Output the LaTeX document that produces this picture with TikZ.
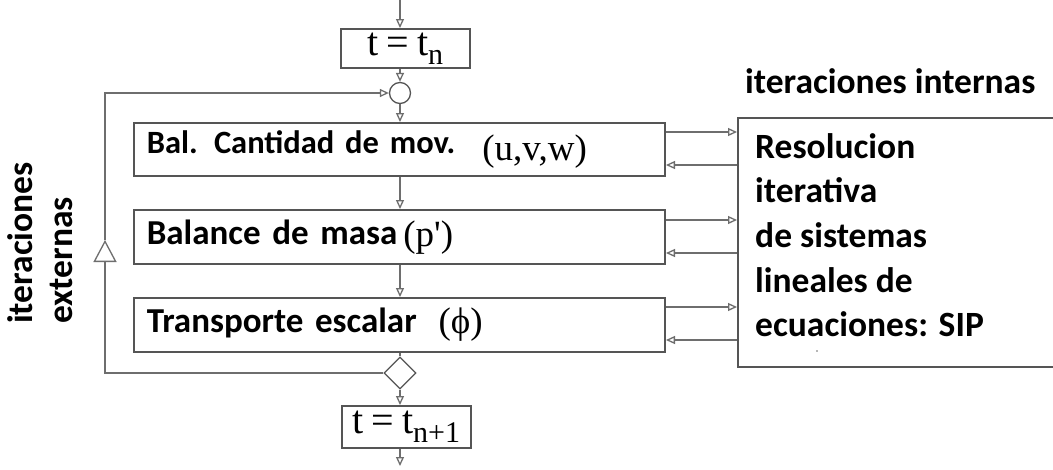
\documentclass[tikz,border=0pt]{standalone}
\usepackage{fontspec}
\setmainfont{Carlito}
\newfontfamily\tnr{Liberation Serif}
\usetikzlibrary{arrows.meta,shapes.geometric}
\definecolor{linegray}{HTML}{6E6E6E}
\definecolor{boxgray}{HTML}{555555}
\tikzset{
  conn/.style={draw=linegray, line width=1.3pt},
  tip/.style={conn, -{Triangle[open,length=9pt,width=8pt]}},
  bigtip/.style={conn, -{Triangle[open,length=22pt,width=23pt]}},
  boxnode/.style={draw=boxgray, line width=1.6pt, fill=white, rectangle, anchor=north west, inner sep=0pt},
  stage/.style={boxnode, minimum height=54pt, text width=505pt, inner xsep=13pt, align=left,
                font=\fontsize{35}{38}\selectfont\bfseries},
  timebox/.style={boxnode, minimum width=129pt, font=\tnr\fontsize{40}{40}\selectfont},
  lbl/.style={font=\fontsize{35.5}{40}\selectfont\bfseries, inner sep=0pt}
}
\newcommand{\sr}[1]{{\tnr\mdseries\fontsize{37}{37}\selectfont #1}}
\begin{document}
\begin{tikzpicture}[x=1pt,y=-1pt]
\useasboundingbox (0,0) rectangle (1053,469);
\clip (0,0) rectangle (1053,469);
\fill[white] (0,0) rectangle (1053,469);
% axis coordinates
\coordinate (top) at (400,0);
\coordinate (bot) at (400,466);
% nodes
\node[timebox, minimum height=39pt] (tn) at (340,28) {t\hspace{8pt}=\hspace{8pt}t\raisebox{-9pt}{\fontsize{30}{30}\selectfont n}};
\node[circle, draw=boxgray, line width=1.3pt, minimum size=21pt, inner sep=0pt] (circ) at (400,93) {};
\node[stage, minimum height=53pt, font=\fontsize{32.5}{38}\selectfont\bfseries] (b1) at (133,122) {Bal. Cantidad de mov.\hspace{27pt}\raisebox{-7pt}{\sr{(u,v,w)}}};
\node[stage] (b2) at (133,209) {Balance de masa\hspace{6pt}\raisebox{-2pt}{\sr{(p')}}};
\node[stage] (b3) at (133,297) {Transporte escalar\hspace{22pt}\raisebox{-1pt}{\sr{(ϕ)}}};
\node[diamond, aspect=1, draw=boxgray, line width=1.3pt, minimum size=32pt, inner sep=0pt] (dia) at (400,373) {};
\node[timebox, minimum height=42pt] (tn1) at (341,405) {t\hspace{8pt}=\hspace{8pt}t\raisebox{-9pt}{\fontsize{30}{30}\selectfont n+1}};
\node[boxnode, minimum width=330pt, minimum height=249pt] (rb) at (737,117) {};
\node[lbl, anchor=north west, align=left, font=\fontsize{35.5}{44.7}\selectfont\bfseries] (rbt) at (755,133)
  {Resolucion\\iterativa\\de sistemas\\lineales de\\ecuaciones: SIP};
\fill[linegray] (817,351) circle (0.8pt);
\node[lbl, anchor=base west] (ii) at (745,93) {iteraciones internas};
\node[lbl, rotate=90, anchor=north west, align=left, font=\fontsize{35.5}{40}\selectfont\bfseries] (ie) at (7,324) {iteraciones\\externas};
% main flow
\draw[tip] (top) -- (tn.north -| top);
\draw[tip] (tn.south -| top) -- (circ.north);
\draw[tip] (circ.south) -- (b1.north -| top);
\draw[tip] (b1.south -| top) -- (b2.north -| top);
\draw[tip] (b2.south -| top) -- (b3.north -| top);
\draw[conn] (b3.south -| top) -- (dia.north);
\draw[tip] (dia.south) -- (tn1.north -| top);
\draw[tip] (tn1.south -| top) -- (bot);
% outer loop
\coordinate (ll) at (105,373);
\coordinate (aup) at (105,240);
\draw[bigtip] (dia.west) -- (ll) -- (aup);
\draw[tip] (aup) -- (aup |- circ.west) -- (circ.west);
% inner iterations
\coordinate (o1) at (666,132); \coordinate (i1) at (666,165);
\coordinate (o2) at (666,220); \coordinate (i2) at (666,253);
\coordinate (o3) at (666,307); \coordinate (i3) at (666,340);
\draw[tip] (o1) -- (o1 -| rb.west);
\draw[tip] (i1 -| rb.west) -- (i1);
\draw[tip] (o2) -- (o2 -| rb.west);
\draw[tip] (i2 -| rb.west) -- (i2);
\draw[tip] (o3) -- (o3 -| rb.west);
\draw[tip] (i3 -| rb.west) -- (i3);
\end{tikzpicture}
\end{document}
